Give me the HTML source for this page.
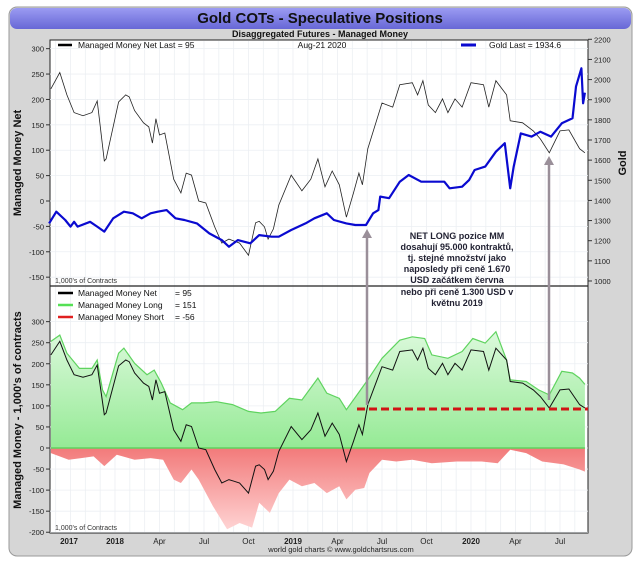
<!DOCTYPE html>
<html><head><meta charset="utf-8">
<style>
body{margin:0;background:#fff;width:640px;height:564px;overflow:hidden;font-family:"Liberation Sans","DejaVu Sans",sans-serif;}
svg text{font-family:"Liberation Sans","Noto Sans CJK SC",sans-serif;}
</style></head><body>
<svg id="c" width="640" height="564" viewBox="0 0 640 564">
<defs>
<linearGradient id="tg" x1="0" y1="0" x2="0" y2="1"><stop offset="0" stop-color="#9b9bf2"/><stop offset="1" stop-color="#6767d6"/></linearGradient>
<linearGradient id="gg" gradientUnits="userSpaceOnUse" x1="0" y1="321" x2="0" y2="448"><stop offset="0" stop-color="#e2fae2"/><stop offset="1" stop-color="#95ea95"/></linearGradient>
<linearGradient id="rg" gradientUnits="userSpaceOnUse" x1="0" y1="448" x2="0" y2="532"><stop offset="0" stop-color="#f27a7a"/><stop offset="1" stop-color="#ffd6d6"/></linearGradient>
</defs>
<rect x="9" y="7" width="623" height="549" rx="8" fill="#d6d6d6" stroke="#9a9a9a"/>
<rect x="10" y="8" width="621" height="21" rx="7" fill="url(#tg)"/>
<text x="320" y="23" text-anchor="middle" font-size="15" font-weight="bold" fill="#111">Gold COTs - Speculative Positions</text>
<text x="320" y="37" text-anchor="middle" font-size="9" font-weight="bold" fill="#111">Disaggregated Futures - Managed Money</text>
<rect x="50" y="40" width="538" height="493" fill="#fff" stroke="#222"/>
<g id="grid"></g>
<g id="marks"></g>
<line x1="50" y1="286" x2="588" y2="286" stroke="#222" stroke-width="1.2"/>
<g id="axes"></g>
<text transform="translate(21,163) rotate(-90)" text-anchor="middle" font-size="11" font-weight="bold" fill="#111">Managed Money Net</text>
<text transform="translate(21,410) rotate(-90)" text-anchor="middle" font-size="11" font-weight="bold" fill="#111">Managed Money - 1,000's of contracts</text>
<text transform="translate(626,163) rotate(-90)" text-anchor="middle" font-size="11" font-weight="bold" fill="#111">Gold</text>
<text x="55" y="283" font-size="7" fill="#333">1,000's of Contracts</text>
<text x="55" y="530" font-size="7" fill="#333">1,000's of Contracts</text>
<text x="341" y="552" text-anchor="middle" font-size="7.5" fill="#222">world gold charts © www.goldchartsrus.com</text>
<g>
<line x1="58" y1="45" x2="72" y2="45" stroke="#000" stroke-width="2.5"/>
<text x="78" y="48" font-size="8.5" fill="#111">Managed Money Net   Last = 95</text>
<text x="322" y="48" text-anchor="middle" font-size="8.5" fill="#111">Aug-21  2020</text>
<line x1="461" y1="45" x2="476" y2="45" stroke="#0a0ad0" stroke-width="3"/>
<text x="489" y="48" font-size="8.5" fill="#111">Gold Last = 1934.6</text>
</g>
<g>
<line x1="58" y1="293" x2="73" y2="293" stroke="#000" stroke-width="2.5"/>
<text x="78" y="296" font-size="8.5" fill="#111">Managed Money Net</text><text x="175" y="296" font-size="8.5" fill="#111">= 95</text>
<line x1="58" y1="305" x2="73" y2="305" stroke="#55e055" stroke-width="2.5"/>
<text x="78" y="308" font-size="8.5" fill="#111">Managed Money Long</text><text x="175" y="308" font-size="8.5" fill="#111">= 151</text>
<line x1="58" y1="317" x2="73" y2="317" stroke="#e02020" stroke-width="2.5"/>
<text x="78" y="320" font-size="8.5" fill="#111">Managed Money Short</text><text x="175" y="320" font-size="8.5" fill="#111">= -56</text>
</g>
<line x1="357" y1="409" x2="588" y2="409" stroke="#d01515" stroke-width="3" stroke-dasharray="8,4"/>
<g><line x1="367" y1="236" x2="367" y2="405" stroke="#9a8f99" stroke-width="2.5"/><polygon points="367,229 362,238 372,238" fill="#9a8f99"/></g>
<g><line x1="549" y1="163" x2="549" y2="400" stroke="#9a8f99" stroke-width="2.5"/><polygon points="549,156 544,165 554,165" fill="#9a8f99"/></g>
<g font-size="9" font-weight="bold" fill="#223" text-anchor="middle">
<text x="457" y="239">NET LONG pozice MM</text>
<text x="457" y="250">dosahují 95.000 kontraktů,</text>
<text x="457" y="261">tj. stejné množství jako</text>
<text x="457" y="272">naposledy při ceně 1.670</text>
<text x="457" y="283">USD začátkem června</text>
<text x="457" y="295">nebo při ceně 1.300 USD v</text>
<text x="457" y="306">květnu 2019</text>
</g>
</svg>
<script>
const netDates=[2017.64,2017.69,2017.73,2017.77,2017.82,2017.87,2017.90,2017.92,2017.94,2017.95,2018.02,2018.06,2018.08,2018.11,2018.16,2018.19,2018.21,2018.23,2018.25,2018.28,2018.33,2018.37,2018.40,2018.43,2018.47,2018.51,2018.56,2018.60,2018.64,2018.67,2018.70,2018.75,2018.79,2018.81,2018.84,2018.86,2018.89,2018.92,2018.99,2019.05,2019.10,2019.14,2019.18,2019.22,2019.26,2019.30,2019.34,2019.37,2019.39,2019.42,2019.50,2019.56,2019.60,2019.67,2019.70,2019.73,2019.76,2019.80,2019.84,2019.87,2019.91,2019.95,2020.00,2020.07,2020.10,2020.14,2020.20,2020.22,2020.29,2020.35,2020.39,2020.44,2020.50,2020.55,2020.61,2020.64];
const netValues=[221,253,209,174,168,174,197,138,79,83,195,209,205,178,154,146,114,162,130,134,43,16,55,51,0,-4,-51,-83,-75,-79,-83,-107,-43,-40,-51,-75,-55,-8,51,20,43,83,28,59,32,-32,16,55,32,103,193,185,229,233,209,237,189,174,201,174,201,185,233,229,185,237,209,158,154,138,122,95,138,140,103,95];
const longDates=[2017.64,2017.69,2017.73,2017.80,2017.87,2017.90,2017.93,2017.95,2018.02,2018.05,2018.11,2018.18,2018.22,2018.26,2018.31,2018.38,2018.43,2018.50,2018.57,2018.66,2018.75,2018.82,2018.90,2018.98,2019.05,2019.14,2019.19,2019.26,2019.30,2019.38,2019.42,2019.50,2019.60,2019.67,2019.74,2019.78,2019.87,2019.95,2020.01,2020.08,2020.14,2020.20,2020.22,2020.31,2020.38,2020.44,2020.51,2020.57,2020.61,2020.64];
const longValues=[253,268,225,189,189,209,138,122,225,237,201,174,185,154,107,91,107,107,110,103,87,83,87,118,114,166,130,118,91,138,162,213,256,264,260,221,213,229,260,249,276,209,162,158,138,126,182,178,166,151];
const shortDates=[2017.64,2017.74,2017.81,2017.88,2017.94,2018.01,2018.11,2018.20,2018.27,2018.33,2018.37,2018.43,2018.47,2018.55,2018.63,2018.70,2018.77,2018.81,2018.87,2018.92,2018.98,2019.05,2019.12,2019.19,2019.26,2019.30,2019.35,2019.40,2019.43,2019.50,2019.58,2019.67,2019.78,2019.92,2020.06,2020.15,2020.22,2020.31,2020.40,2020.52,2020.61,2020.64];
const shortValues=[-12,-28,-24,-20,-43,-16,-28,-24,-28,-75,-83,-51,-75,-138,-193,-178,-189,-130,-154,-107,-75,-91,-83,-107,-91,-122,-99,-95,-59,-28,-32,-28,-36,-32,-32,-36,-4,-12,-32,-39,-51,-56];
const goldDates=[2017.63,2017.67,2017.72,2017.75,2017.77,2017.79,2017.86,2017.90,2017.94,2017.99,2018.05,2018.10,2018.15,2018.20,2018.24,2018.29,2018.34,2018.39,2018.46,2018.53,2018.60,2018.64,2018.69,2018.76,2018.81,2018.88,2018.92,2018.99,2019.07,2019.12,2019.19,2019.23,2019.30,2019.35,2019.41,2019.45,2019.48,2019.49,2019.54,2019.60,2019.65,2019.72,2019.79,2019.85,2019.88,2019.95,2019.99,2020.02,2020.08,2020.14,2020.19,2020.22,2020.24,2020.28,2020.34,2020.39,2020.45,2020.51,2020.57,2020.59,2020.62,2020.63,2020.64];
const goldValues=[1286,1344,1303,1270,1294,1270,1294,1270,1245,1311,1344,1336,1311,1336,1344,1352,1311,1303,1286,1236,1203,1170,1203,1187,1228,1220,1220,1253,1286,1311,1336,1303,1286,1278,1278,1336,1352,1419,1411,1493,1526,1493,1493,1493,1460,1468,1502,1551,1568,1642,1684,1460,1568,1733,1717,1741,1717,1783,1808,1965,2056,1882,1935];
const topLeftTicks=[300,250,200,150,100,50,0,-50,-100,-150];
const goldTicks=[2200,2100,2000,1900,1800,1700,1600,1500,1400,1300,1200,1100,1000];
const bottomTicks=[300,250,200,150,100,50,0,-50,-100,-150,-200];
const xTickDates=[2017.0,2018.0,2018.25,2018.5,2018.75,2019.0,2019.25,2019.5,2019.75,2020.0,2020.25,2020.5];
const xTickLabels=["2017","2018","Apr","Jul","Oct","2019","Apr","Jul","Oct","2020","Apr","Jul"];

const NS="http://www.w3.org/2000/svg";
const xs=t=>293+(t-2019)*178;
const yTop=v=>201-v*0.5078;
const yGold=g=>39.3+(2200-g)*0.2014;
const yBot=v=>448-v*0.4212;
function mk(tag,attrs,parent){const e=document.createElementNS(NS,tag);for(const k in attrs)e.setAttribute(k,attrs[k]);parent.appendChild(e);return e;}
const grid=document.getElementById('grid'),marks=document.getElementById('marks'),axes=document.getElementById('axes');
// vertical monthly grid
for(let m=0;m<40;m++){const t=2017+8/12+m/12;const x=xs(t);if(x<=50||x>=588)continue;
 const l=mk('line',{x1:x,y1:41,x2:x,y2:532,stroke:'#eceff3','stroke-width':0.8},grid);
 
 }
topLeftTicks.forEach(v=>{const y=yTop(v);
 const l=mk('line',{x1:50,y1:y,x2:588,y2:y,stroke:'#eceff3','stroke-width':0.8},grid);
 
 
 mk('line',{x1:46,y1:y,x2:50,y2:y,stroke:'#333'},axes);
 const t=mk('text',{x:44,y:y+3,'text-anchor':'end','font-size':7.5,fill:'#222'},axes);t.textContent=v;
 
 });
goldTicks.forEach(v=>{const y=yGold(v);
 mk('line',{x1:588,y1:y,x2:592,y2:y,stroke:'#333'},axes);
 const t=mk('text',{x:594,y:y+3,'font-size':7.5,fill:'#222'},axes);t.textContent=v;
 
 });
bottomTicks.forEach(v=>{const y=yBot(v);
 const l=mk('line',{x1:50,y1:y,x2:588,y2:y,stroke:'#eceff3','stroke-width':0.8},grid);
 
 
 mk('line',{x1:46,y1:y,x2:50,y2:y,stroke:'#333'},axes);
 const t=mk('text',{x:44,y:y+3,'text-anchor':'end','font-size':7.5,fill:'#222'},axes);t.textContent=v;
 
 });
xTickDates.forEach((d,i)=>{const x=xs(d)+(d===2017.0?-2:0);
 const cx=Math.max(x,69);
 const t=mk('text',{x:cx,y:544,'text-anchor':'middle','font-size':8,'font-weight':i===0||i===1||i===5||i===9?'bold':'normal',fill:'#222'},axes);t.textContent=xTickLabels[i];
 
 });
function pts(ds,vs,fy){return ds.map((d,i)=>xs(d).toFixed(1)+','+fy(vs[i]).toFixed(1));}
// bottom panel areas
const lp=pts(longDates,longValues,yBot);
const ga=mk('polygon',{points:xs(longDates[0])+','+yBot(0)+' '+lp.join(' ')+' '+xs(longDates[longDates.length-1])+','+yBot(0),fill:'url(#gg)'},marks);


const sp=pts(shortDates,shortValues,yBot);
const ra=mk('polygon',{points:xs(shortDates[0])+','+yBot(0)+' '+sp.join(' ')+' '+xs(shortDates[shortDates.length-1])+','+yBot(0),fill:'url(#rg)'},marks);


const gl=mk('polyline',{points:lp.join(' '),fill:'none',stroke:'#5fd35f','stroke-width':1.2},marks);


const zl=mk('line',{x1:xs(longDates[0]),y1:yBot(0),x2:xs(2020.64),y2:yBot(0),stroke:'#5fd35f','stroke-width':1.5},marks);


const nb=mk('polyline',{points:pts(netDates,netValues,yBot).join(' '),fill:'none',stroke:'#111','stroke-width':1},marks);


// top panel
const nt=mk('polyline',{points:pts(netDates,netValues,yTop).join(' '),fill:'none',stroke:'#222','stroke-width':0.8},marks);


const gd=mk('polyline',{points:pts(goldDates,goldValues,yGold).join(' '),fill:'none',stroke:'#0a0ad0','stroke-width':2.2,'stroke-linejoin':'round'},marks);


</script>
</body></html>
